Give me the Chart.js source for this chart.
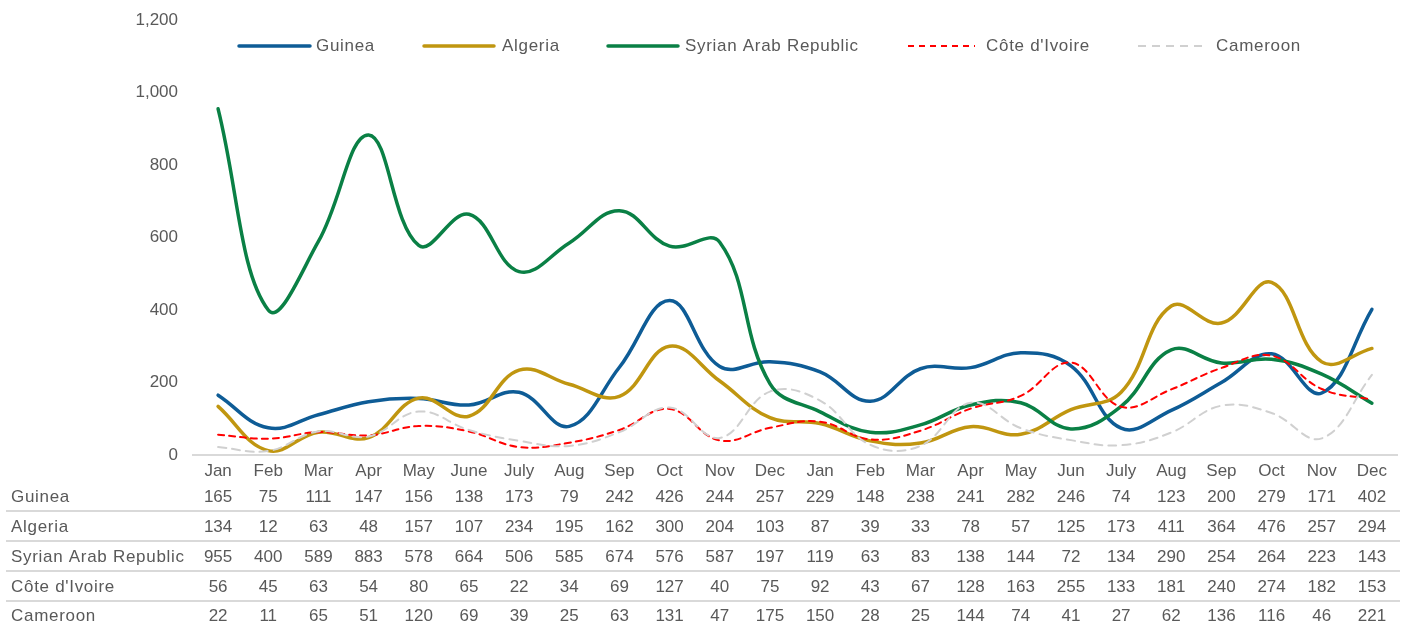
<!DOCTYPE html>
<html>
<head>
<meta charset="utf-8">
<script src="https://cdn.jsdelivr.net/npm/chart.js@4/dist/chart.umd.min.js"></script>
<style>
  html, body { margin: 0; padding: 0; background: #ffffff; }
  #wrap { width: 1408px; height: 626px; position: relative; }
</style>
</head>
<body>
<div id="wrap"><canvas id="c" width="1408" height="626"></canvas></div>
<script>
const categories = ["Jan","Feb","Mar","Apr","May","June","July","Aug","Sep","Oct","Nov","Dec",
                    "Jan","Feb","Mar","Apr","May","Jun","July","Aug","Sep","Oct","Nov","Dec"];
const seriesNames = ["Guinea","Algeria","Syrian Arab Republic","Côte d'Ivoire","Cameroon"];
const guinea   = [165,75,111,147,156,138,173,79,242,426,244,257,229,148,238,241,282,246,74,123,200,279,171,402];
const algeria  = [134,12,63,48,157,107,234,195,162,300,204,103,87,39,33,78,57,125,173,411,364,476,257,294];
const syrian   = [955,400,589,883,578,664,506,585,674,576,587,197,119,63,83,138,144,72,134,290,254,264,223,143];
const cote     = [56,45,63,54,80,65,22,34,69,127,40,75,92,43,67,128,163,255,133,181,240,274,182,153];
const cameroon = [22,11,65,51,120,69,39,25,63,131,47,175,150,28,25,144,74,41,27,62,136,116,46,221];
const yMin = 0, yMax = 1200, yStep = 200;

const FONT = '"Liberation Sans", Arial, sans-serif';
const TXT = '#595959';
const colors = ['#0E5C96', '#C09610', '#0A8045', '#FF0000', '#D0D0D0'];
const widths = [3.5, 3.5, 3.5, 2, 2];
const dashes = [[], [], [], [6, 5], [8, 6]];
const values = [guinea, algeria, syrian, cote, cameroon];

const legendPos = [
  {x0: 239, x1: 310, tx: 316},
  {x0: 424, x1: 494, tx: 502},
  {x0: 608, x1: 678, tx: 685},
  {x0: 908, x1: 975, tx: 986},
  {x0: 1138, x1: 1205, tx: 1216}
];
const rowY = [497, 527, 557, 587, 616];
const lineY = [511, 541, 571, 601];

const tablePlugin = {
  id: 'tableAndLegend',
  afterDraw(chart) {
    const ctx = chart.ctx;
    const xs = chart.scales.x;
    ctx.save();
    ctx.strokeStyle = '#D9D9D9';
    ctx.lineWidth = 2;
    lineY.forEach(y => {
      ctx.beginPath(); ctx.moveTo(6, y); ctx.lineTo(1400, y); ctx.stroke();
    });
    ctx.fillStyle = TXT;
    ctx.font = '17px ' + FONT;
    ctx.textBaseline = 'middle';
    chart.data.datasets.forEach((ds, i) => {
      ctx.textAlign = 'left';
      ctx.letterSpacing = '0.7px';
      ctx.fillText(ds.label, 11, rowY[i]);
      ctx.letterSpacing = '0px';
      ctx.textAlign = 'center';
      ds.data.forEach((v, j) => {
        ctx.fillText(String(v), xs.getPixelForValue(j), rowY[i]);
      });
    });
    chart.data.datasets.forEach((ds, i) => {
      const p = legendPos[i];
      ctx.strokeStyle = ds.borderColor;
      ctx.lineWidth = ds.borderWidth;
      ctx.setLineDash(ds.borderDash || []);
      ctx.lineCap = ds.borderDash && ds.borderDash.length ? 'butt' : 'round';
      ctx.beginPath(); ctx.moveTo(p.x0, 46); ctx.lineTo(p.x1, 46); ctx.stroke();
      ctx.setLineDash([]);
      ctx.fillStyle = TXT;
      ctx.textAlign = 'left';
      ctx.letterSpacing = '0.7px';
      ctx.fillText(ds.label, p.tx, 46);
    });
    ctx.restore();
  }
};

new Chart(document.getElementById('c'), {
  type: 'line',
  data: {
    labels: categories,
    datasets: values.map((d, i) => ({
      label: seriesNames[i],
      data: d,
      borderColor: colors[i],
      backgroundColor: colors[i],
      borderWidth: widths[i],
      borderDash: dashes[i],
      pointRadius: 0,
      tension: 0.4,
      fill: false,
      borderCapStyle: 'round',
      order: 4 - i
    }))
  },
  options: {
    responsive: false,
    animation: false,
    devicePixelRatio: 1,
    layout: { padding: { left: 0, right: 11, top: 20, bottom: 0 } },
    plugins: { legend: { display: false }, tooltip: { enabled: false } },
    scales: {
      x: {
        offset: true,
        grid: { display: false, drawTicks: false },
        border: { display: true, color: '#D9D9D9', width: 2 },
        ticks: { color: TXT, font: { family: FONT, size: 17 }, padding: 6, maxRotation: 0, autoSkip: false },
        afterFit(scale) { scale.height = 171; scale.paddingLeft = 0; scale.paddingRight = 0; }
      },
      y: {
        min: yMin, max: yMax,
        grid: { display: false, drawTicks: false },
        border: { display: false },
        ticks: {
          stepSize: yStep, color: TXT, padding: 15,
          font: { family: FONT, size: 17 },
          callback: v => v.toLocaleString('en-US')
        },
        afterFit(scale) { scale.width = 193; scale.paddingTop = 0; scale.paddingBottom = 0; }
      }
    }
  },
  plugins: [tablePlugin]
});
</script>
</body>
</html>
